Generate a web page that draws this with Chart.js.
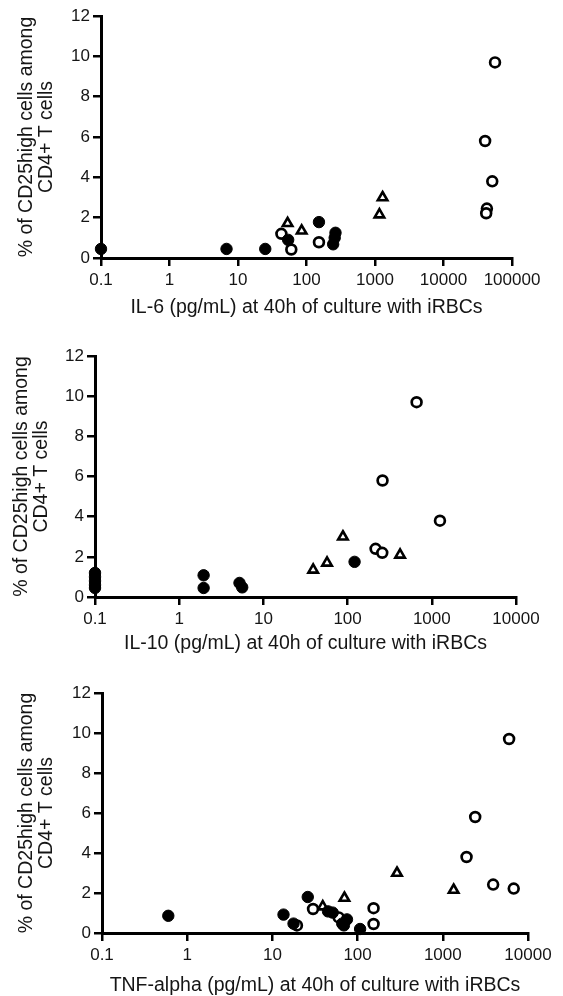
<!DOCTYPE html>
<html>
<head>
<meta charset="utf-8">
<script src="https://cdn.jsdelivr.net/npm/chart.js@4.4.0/dist/chart.umd.min.js"></script>
<style>
  html, body { margin: 0; padding: 0; background: #fff; }
  #wrap { position: relative; width: 563px; height: 996px; }
  canvas { position: absolute; left: 0; }
</style>
</head>
<body>
<div id="wrap">
  <canvas id="il6Chart" width="563" height="330" style="top:0px"></canvas>
  <canvas id="il10Chart" width="563" height="330" style="top:330px"></canvas>
  <canvas id="tnfChart" width="563" height="336" style="top:660px"></canvas>
</div>
<script>
// Shared y axis
const yTicks = [0, 2, 4, 6, 8, 10, 12];
const yTitle = ['% of CD25high cells among', 'CD4+ T cells'];

// IL-6 panel  [pg/mL, % CD25high]
const il6Ticks = [0.1, 1, 10, 100, 1000, 10000, 100000];
const il6Title = 'IL-6 (pg/mL) at 40h of culture with iRBCs';
const il6Filled = [[0.1, 0.45], [6.8, 0.45], [25, 0.45], [54, 0.9], [152, 1.78], [265, 1.25], [258, 1.0], [245, 0.68]];
const il6Open = [[43, 1.2], [60, 0.42], [152, 0.78], [56500, 9.7], [40500, 5.8], [51500, 3.8], [43000, 2.45], [42000, 2.22]];
const il6Tri = [[53, 1.72], [85, 1.35], [1290, 3.0], [1160, 2.15]];

// IL-10 panel
const il10Ticks = [0.1, 1, 10, 100, 1000, 10000];
const il10Title = 'IL-10 (pg/mL) at 40h of culture with iRBCs';
const il10Filled = [[0.1, 1.2], [0.1, 1.0], [0.1, 0.8], [0.1, 0.6], [0.1, 0.45], [1.95, 1.08], [1.95, 0.45], [5.2, 0.7], [5.6, 0.48], [121, 1.75]];
const il10Open = [[660, 9.7], [260, 5.8], [1250, 3.8], [215, 2.4], [258, 2.2]];
const il10Tri = [[39, 1.35], [57, 1.7], [88, 3.0], [420, 2.1]];

// TNF-alpha panel
const tnfTicks = [0.1, 1, 10, 100, 1000, 10000];
const tnfTitle = 'TNF-alpha (pg/mL) at 40h of culture with iRBCs';
const tnfFilled = [[0.6, 0.86], [13.5, 0.92], [17.7, 0.47], [26, 1.8], [45, 1.08], [51, 1.02], [66, 0.47], [69, 0.38], [75, 0.68], [107, 0.2]];
const tnfOpen = [[19.4, 0.38], [30, 1.2], [60, 0.78], [154, 1.24], [154, 0.45], [1900, 3.8], [2400, 5.8], [3900, 2.42], [6000, 9.7], [6800, 2.22]];
const tnfTri = [[39, 1.32], [70, 1.75], [290, 3.0], [1340, 2.15]];

Chart.defaults.font.family = "'Liberation Sans', Arial, sans-serif";
Chart.defaults.color = '#151515';

const toPts = arr => arr.map(p => ({ x: p[0], y: p[1] }));

// box: plot area edges inside the canvas, plus where the titles sit
function makePanel(id, box, xTicks, xTitle, filled, open, tri) {
  const canvas = document.getElementById(id);
  const H = canvas.height;
  const titleLH = 20.5;
  return new Chart(canvas.getContext('2d'), {
    type: 'scatter',
    data: {
      datasets: [
        {
          label: 'filled',
          data: toPts(filled),
          pointStyle: 'circle',
          pointRadius: 5.7,
          backgroundColor: '#000',
          borderColor: '#000',
          borderWidth: 1,
          clip: false
        },
        {
          label: 'open',
          data: toPts(open),
          pointStyle: 'circle',
          pointRadius: 4.9,
          backgroundColor: '#fff',
          borderColor: '#000',
          borderWidth: 2.7,
          clip: false
        },
        {
          label: 'triangle',
          data: toPts(tri),
          pointStyle: 'triangle',
          pointRadius: 5.5,
          backgroundColor: '#fff',
          borderColor: '#000',
          borderWidth: 2.6,
          clip: false
        }
      ]
    },
    options: {
      responsive: false,
      animation: false,
      layout: {
        padding: { left: box.titleLeft, right: 563 - box.right, top: box.top, bottom: 0 }
      },
      plugins: { legend: { display: false }, tooltip: { enabled: false } },
      scales: {
        x: {
          type: 'logarithmic',
          min: xTicks[0],
          max: xTicks[xTicks.length - 1],
          afterBuildTicks: scale => { scale.ticks = xTicks.map(v => ({ value: v })); },
          afterFit: scale => { scale.height = H - box.bottom; },
          ticks: {
            autoSkip: false,
            maxRotation: 0,
            padding: 4,
            font: { size: 17 },
            callback: v => String(v)
          },
          grid: { drawOnChartArea: false, drawTicks: true, tickLength: 8, color: '#000', lineWidth: 2.5 },
          border: { display: true, color: '#000', width: 3 },
          title: {
            display: true,
            text: xTitle,
            font: { size: 19.5, lineHeight: titleLH / 19.5 },
            padding: { top: 0, bottom: H - box.xTitleY - titleLH / 2 }
          }
        },
        y: {
          min: 0,
          max: 12,
          afterBuildTicks: scale => { scale.ticks = yTicks.map(v => ({ value: v })); },
          afterFit: scale => { scale.width = box.left - box.titleLeft; },
          ticks: { padding: 3, font: { size: 17 } },
          grid: { drawOnChartArea: false, drawTicks: true, tickLength: 8, color: '#000', lineWidth: 2.5 },
          border: { display: true, color: '#000', width: 3 },
          title: {
            display: true,
            text: yTitle,
            font: { size: 19.5, lineHeight: titleLH / 19.5 },
            padding: { top: 0, bottom: 0 }
          }
        }
      }
    }
  });
}

makePanel('il6Chart', { left: 101, right: 512, top: 16, bottom: 258, titleLeft: 16, xTitleY: 308 },
  il6Ticks, il6Title, il6Filled, il6Open, il6Tri);
makePanel('il10Chart', { left: 95, right: 516, top: 26, bottom: 267, titleLeft: 11, xTitleY: 314 },
  il10Ticks, il10Title, il10Filled, il10Open, il10Tri);
makePanel('tnfChart', { left: 102, right: 528, top: 33, bottom: 273, titleLeft: 16, xTitleY: 326 },
  tnfTicks, tnfTitle, tnfFilled, tnfOpen, tnfTri);
</script>
</body>
</html>
